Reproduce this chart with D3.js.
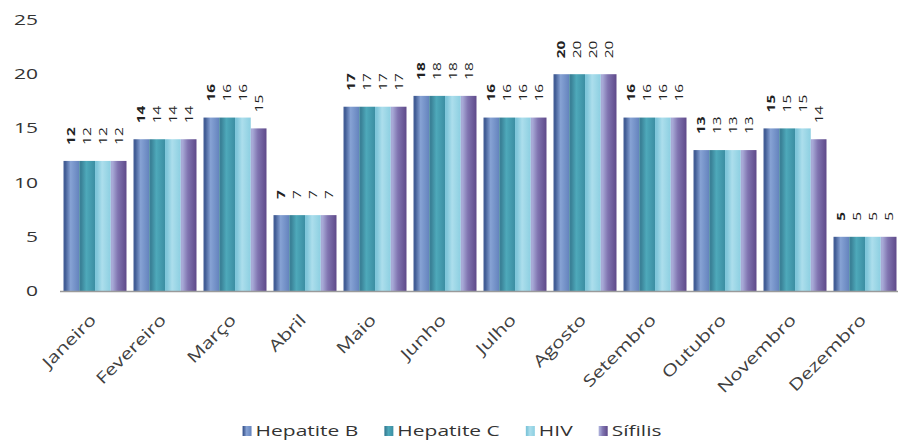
<!DOCTYPE html>
<html><head><meta charset="utf-8">
<script src="https://cdn.jsdelivr.net/npm/d3@7"></script>
<style>body{margin:0;background:#fff}svg{display:block}text{font-family:"Open Sans",sans-serif}</style>
</head><body><svg id="c" width="898" height="444"></svg>
<script>
const months = ["Janeiro","Fevereiro","Março","Abril","Maio","Junho","Julho","Agosto","Setembro","Outubro","Novembro","Dezembro"];
const seriesNames = ["Hepatite B","Hepatite C","HIV","Sífilis"];
const hepatiteB = [12,14,16,7,17,18,16,20,16,13,15,5];
const hepatiteC = [12,14,16,7,17,18,16,20,16,13,15,5];
const hiv       = [12,14,16,7,17,18,16,20,16,13,15,5];
const sifilis   = [12,14,15,7,17,18,16,20,16,13,14,5];
const yTicks = [0,5,10,15,20,25];

const seriesValues = [hepatiteB, hepatiteC, hiv, sifilis];
const grads = [
  ["#435e96","#86a2d4","#6483bd"],
  ["#3a8197","#4ea9ba","#3b8ea3"],
  ["#7fc6da","#acdeec","#8ccfe1"],
  ["#a7a9d6","#8074b0","#5f4a8a"]
];
const SX = 1.4;
const svg = d3.select("#c");
const defs = svg.append("defs");
grads.forEach((g,i)=>{
  const lg = defs.append("linearGradient").attr("id","g"+i).attr("x1",0).attr("x2",1).attr("y1",0).attr("y2",0);
  lg.append("stop").attr("offset","0%").attr("stop-color",g[0]);
  lg.append("stop").attr("offset","12%").attr("stop-color",g[0]);
  lg.append("stop").attr("offset","45%").attr("stop-color",g[1]);
  lg.append("stop").attr("offset","100%").attr("stop-color",g[2]);
});

const x0 = d3.scaleBand().domain(months).range([60,900]).paddingInner(0.1).paddingOuter(0.05);
const x1 = d3.scaleBand().domain(seriesNames).range([0,x0.bandwidth()]);
const y = d3.scaleLinear().domain([0,25]).range([291,20]);

// y tick labels
svg.append("g").selectAll("text").data(yTicks).join("text")
  .attr("transform",d=>`translate(38,${y(d)+5}) scale(${SX},1)`)
  .attr("text-anchor","end").attr("font-size",15).attr("fill","#333").text(d=>d);

// bars
const groups = svg.append("g").selectAll("g").data(months).join("g")
  .attr("transform",m=>`translate(${x0(m)},0)`);
groups.each(function(m,mi){
  const g = d3.select(this);
  seriesNames.forEach((s,si)=>{
    const v = seriesValues[si][mi];
    g.append("rect").attr("x",x1(s)).attr("width",x1.bandwidth()).attr("y",y(v)).attr("height",y(0)-y(v))
      .attr("fill",`url(#g${si})`);
    g.append("text").attr("transform",`translate(${x1(s)+x1.bandwidth()/2+4},${y(v)-16}) rotate(-90) scale(${SX},1)`)
      .attr("font-size",11).attr("font-weight",si===0?"bold":"normal").attr("fill","#222").text(v);
  });
});

// axis line
svg.append("line").attr("x1",60).attr("x2",898).attr("y1",y(0)+0.5).attr("y2",y(0)+0.5).attr("stroke","#9a9a9a").attr("stroke-width",1.5);

// x labels
svg.append("g").selectAll("text").data(months).join("text")
  .attr("transform",m=>`translate(${x0(m)+x0.bandwidth()/2+2},${y(0)+30}) rotate(-45) scale(1.3,1)`)
  .attr("text-anchor","end").attr("font-size",16).attr("fill","#404040").text(m=>m);

// legend
const lg = svg.append("g");
let lx = 0;
const items = [];
seriesNames.forEach((s,i)=>{
  const it = lg.append("g");
  it.append("rect").attr("x",0).attr("y",-10).attr("width",9).attr("height",10).attr("fill",`url(#g${i})`);
  const t = it.append("text").attr("transform",`translate(13,0) scale(${SX},1)`).attr("font-size",15).attr("fill","#333").text(s);
  const w = 13 + t.node().getComputedTextLength()*SX;
  it.attr("transform",`translate(${lx},0)`);
  lx += w + 26;
});
const totalW = lx - 26;
lg.attr("transform",`translate(${452-totalW/2},436)`);
</script></body></html>
